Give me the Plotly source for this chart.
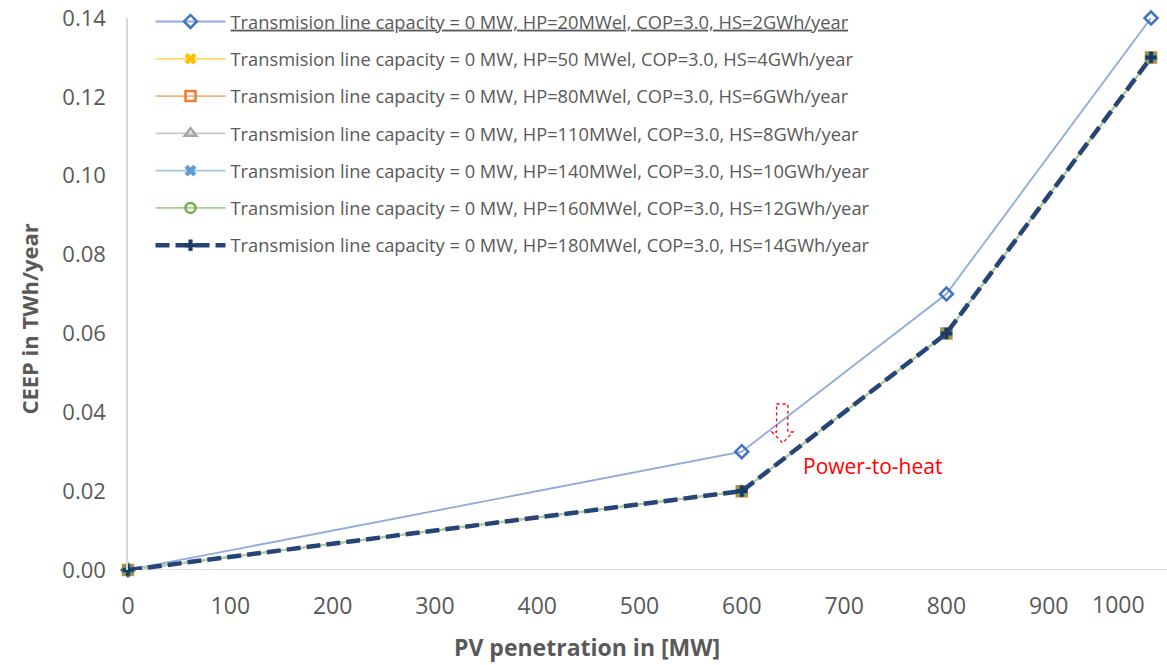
import plotly.graph_objects as go

GREY_TXT = "#595959"
AXIS_LINE = "#D9D9D9"

pv_mw = [0, 600, 800, 1000]
ceep_hp20 = [0, 0.03, 0.07, 0.14]
ceep_hp50 = [0, 0.02, 0.06, 0.13]
ceep_hp80 = [0, 0.02, 0.06, 0.13]
ceep_hp110 = [0, 0.02, 0.06, 0.13]
ceep_hp140 = [0, 0.02, 0.06, 0.13]
ceep_hp160 = [0, 0.02, 0.06, 0.13]
ceep_hp180 = [0, 0.02, 0.06, 0.13]

x_ticks = [0, 100, 200, 300, 400, 500, 600, 700, 800, 900, 1000]
y_ticks = [0, 0.02, 0.04, 0.06, 0.08, 0.10, 0.12, 0.14]

names = [
    "<u>Transmision line capacity = 0 MW, HP=20MWel, COP=3.0, HS=2GWh/year</u>",
    "Transmision line capacity = 0 MW, HP=50 MWel, COP=3.0, HS=4GWh/year",
    "Transmision line capacity = 0 MW, HP=80MWel, COP=3.0, HS=6GWh/year",
    "Transmision line capacity = 0 MW, HP=110MWel, COP=3.0, HS=8GWh/year",
    "Transmision line capacity = 0 MW, HP=140MWel, COP=3.0, HS=10GWh/year",
    "Transmision line capacity = 0 MW, HP=160MWel, COP=3.0, HS=12GWh/year",
    "Transmision line capacity = 0 MW, HP=180MWel, COP=3.0, HS=14GWh/year",
]
series = [ceep_hp20, ceep_hp50, ceep_hp80, ceep_hp110, ceep_hp140, ceep_hp160, ceep_hp180]

# (line colour, marker colour, symbol, line width, dash)
styles = [
    ("#8FAADC", "#4472C4", "diamond-open", 1.8, "solid"),
    ("#FFD966", "#FFC000", "x", 1.8, "solid"),
    ("#F4B183", "#ED7D31", "square-open", 1.8, "solid"),
    ("#C9C9C9", "#A5A5A5", "triangle-up-open", 1.8, "solid"),
    ("#9DC3E6", "#5B9BD5", "x", 1.8, "solid"),
    ("#A9D18E", "#70AD47", "circle-open", 1.8, "solid"),
    ("#264478", "#203864", "cross", 4.5, "14px,6px"),
]

fig = go.Figure()
for i, (name, vals, st) in enumerate(zip(names, series, styles)):
    lc, mc, sym, lw, dash = st
    fig.add_trace(go.Scatter(
        x=pv_mw, y=vals, name=name, mode="lines+markers",
        legendgroup=f"g{i}",
        line=dict(color=lc, width=lw, dash=dash),
        marker=dict(symbol=sym, color=mc, size=10 if sym != "cross" else 9,
                    line=dict(width=2.5 if "open" in sym else 0.5, color=mc)),
        cliponaxis=False,
    ))

# hollow dashed arrow
ax = [634, 645, 645, 650, 640, 629.5, 634, 634]
ay = [0.0421, 0.0421, 0.035, 0.035, 0.0322, 0.035, 0.035, 0.0421]
path = "M " + " L ".join(f"{a},{b}" for a, b in zip(ax, ay)) + " Z"
fig.add_shape(type="path", path=path, xref="x", yref="y",
              line=dict(color="#FF0000", width=1.3, dash="dot"))
fig.add_annotation(x=728, y=0.0264, text="Power-to-heat", showarrow=False,
                   font=dict(color="#FF0000", size=21))

# x axis line runs to the right edge
fig.add_shape(type="line", xref="paper", yref="y", x0=0, x1=1.02, y0=0, y1=0,
              line=dict(color=AXIS_LINE, width=1.5), layer="below")

# last x label sits flush with the plot edge, like Excel does
fig.add_annotation(x=x_ticks[-1], xref="x", yref="paper", y=-0.061, xanchor="right",
                   yanchor="middle", xshift=-4, text=str(x_ticks[-1]), showarrow=False,
                   font=dict(size=23, color=GREY_TXT))

fig.add_annotation(xref="paper", yref="paper", x=0.449, y=-0.14, yanchor="middle",
                   text="<b>PV penetration in [MW]</b>", showarrow=False,
                   font=dict(size=23, color=GREY_TXT))
fig.add_annotation(xref="paper", yref="paper", x=-0.097, y=0.455, xanchor="center",
                   text="<b>CEEP in TWh/year</b>", showarrow=False, textangle=-90,
                   font=dict(size=22, color=GREY_TXT))

fig.update_xaxes(range=[0, 1000], tickvals=x_ticks[:-1],
                 showgrid=False, zeroline=False, showline=False, automargin=False,
                 ticks="outside", ticklen=15, tickcolor="rgba(0,0,0,0)",
                 ticklabeloverflow="allow",
                 tickfont=dict(size=23, color=GREY_TXT))
fig.update_yaxes(range=[0, 0.14], tickvals=y_ticks, tickformat=".2f",
                 showgrid=False, zeroline=False, showline=True, linecolor=AXIS_LINE,
                 linewidth=1.5, automargin=False,
                 ticks="outside", ticklen=16, tickcolor="rgba(0,0,0,0)",
                 ticklabeloverflow="allow",
                 tickfont=dict(size=22, color=GREY_TXT))

fig.update_layout(
    width=1167, height=665,
    paper_bgcolor="white", plot_bgcolor="white",
    font=dict(family="Open Sans", color=GREY_TXT),
    margin=dict(l=128, r=16, t=18, b=95, autoexpand=False),
    showlegend=True,
    legend=dict(x=0.022, y=1.027, xanchor="left", yanchor="top",
                bgcolor="rgba(0,0,0,0)", font=dict(size=18.3, color=GREY_TXT),
                itemwidth=70, tracegroupgap=10.5),
)

# drop the default 8px page margin so the figure fills the window
fig.write_html("out.html", config={"displayModeBar": False},
               post_script="document.body.style.margin='0';")
